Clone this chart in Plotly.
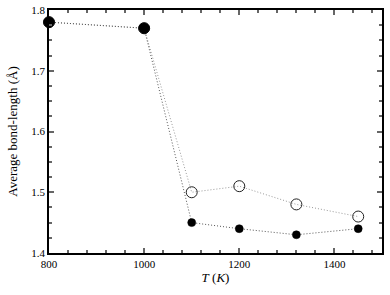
import plotly.graph_objects as go

temps = [800, 1000, 1100, 1200, 1320, 1450]
open_vals = [1.78, 1.77, 1.50, 1.51, 1.48, 1.46]
filled_vals = [1.78, 1.77, 1.45, 1.44, 1.43, 1.44]

fig = go.Figure()
fig.add_trace(go.Scatter(
    x=temps, y=open_vals, mode="lines+markers", cliponaxis=False,
    line=dict(color="#999999", width=1, dash="1px,2px"),
    marker=dict(symbol="circle-open", size=11, color="#222222", line=dict(width=1)),
    showlegend=False))
fig.add_trace(go.Scatter(
    x=temps, y=filled_vals, mode="lines+markers", cliponaxis=False,
    line=dict(color="#555555", width=1, dash="1px,2px"),
    marker=dict(symbol="circle", size=[11, 11, 8, 8, 8, 8], color="#000000", opacity=1,
                line=dict(color="#000000", width=0.5)),
    showlegend=False))

font = dict(family="Liberation Serif", color="black")
fig.update_layout(
    width=390, height=295,
    margin=dict(l=49, r=8, t=10, b=42),
    paper_bgcolor="white", plot_bgcolor="white",
    font=dict(**font, size=11),
)
fig.update_xaxes(
    range=[800, 1500], tickvals=[800, 1000, 1200, 1400],
    ticks="inside", ticklen=5, tickwidth=1.5, tickcolor="#666",
    showline=True, linecolor="black", linewidth=1.5, mirror="ticks",
    showgrid=False, zeroline=False, automargin=False,
    minor=dict(dtick=40, tick0=800, ticks="inside", ticklen=3, tickcolor="#666", showgrid=False),
    title=dict(text="<i>T</i> (<i>K</i>)", font=dict(size=13), standoff=4),
    tickfont=dict(size=11),
)
fig.update_yaxes(
    range=[1.4, 1.8], tickvals=[1.4, 1.5, 1.6, 1.7, 1.8], ticktext=["1.4", "1.5", "1.6", "1.7", "1.8"],
    ticks="inside", ticklen=5, tickwidth=1.5, tickcolor="#666",
    showline=True, linecolor="black", linewidth=1.5, mirror="ticks",
    showgrid=False, zeroline=False, automargin=False,
    minor=dict(dtick=0.025, tick0=1.4, ticks="inside", ticklen=3, tickcolor="#666", showgrid=False),
    title=dict(text="Average bond-length (Å)", font=dict(size=13), standoff=11),
    tickfont=dict(size=11),
)
fig.write_html("out.html", config={"displayModeBar": False},
               post_script="document.body.style.margin='0';document.body.style.overflow='hidden';")
